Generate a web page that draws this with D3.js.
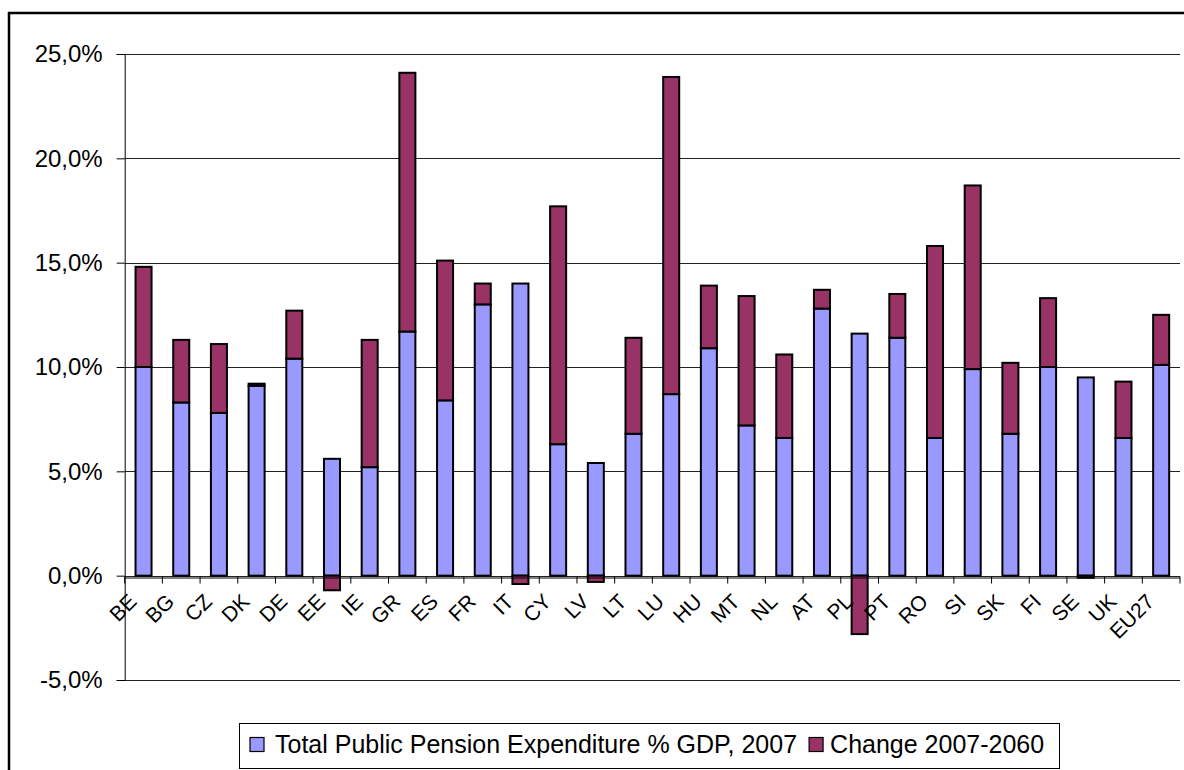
<!DOCTYPE html>
<html>
<head>
<meta charset="utf-8">
<script src="https://cdn.jsdelivr.net/npm/d3@7"></script>
<style>
  html, body { margin: 0; padding: 0; background: #fff; overflow: hidden; }
  svg { display: block; font-family: "Liberation Sans", Arial, sans-serif; }
</style>
</head>
<body>
<svg id="chart" width="1184" height="770"></svg>
<script>
const categories = ["BE","BG","CZ","DK","DE","EE","IE","GR","ES","FR","IT","CY","LV","LT","LU","HU","MT","NL","AT","PL","PT","RO","SI","SK","FI","SE","UK","EU27"];
const expenditure2007 = [10.0,8.3,7.8,9.1,10.4,5.6,5.2,11.7,8.4,13.0,14.0,6.3,5.4,6.8,8.7,10.9,7.2,6.6,12.8,11.6,11.4,6.6,9.9,6.8,10.0,9.5,6.6,10.1];
const change2007_2060 = [4.8,3.0,3.3,0.1,2.3,-0.7,6.1,12.4,6.7,1.0,-0.4,11.4,-0.3,4.6,15.2,3.0,6.2,4.0,0.9,-2.8,2.1,9.2,8.8,3.4,3.3,-0.1,2.7,2.4];
const yTicks = [-5,0,5,10,15,20,25];
const seriesNames = ["Total Public Pension Expenditure % GDP, 2007","Change 2007-2060"];
const colors = ["#9999FF","#993366"];

(function () {
const svg = d3.select("#chart");
const pLeft = 124.7, pRight = 1180, pTop = 54, pBottom = 680;

// outer border (right/bottom edges fall outside the picture)
svg.append("rect").attr("x", 9).attr("y", 13).attr("width", 1400).attr("height", 900)
  .attr("fill", "none").attr("stroke", "#000").attr("stroke-width", 2.5);

const x = d3.scaleBand().domain(categories).range([pLeft, pRight])
  .paddingInner(0.575).paddingOuter(0.2875);
const y = d3.scaleLinear().domain([-5, 25]).range([pBottom, pTop]);
const fmt = v => (v < 0 ? "-" : "") + d3.format(".1f")(Math.abs(v)).replace(".", ",") + "%";

// gridlines
svg.append("g").selectAll("line").data(yTicks).join("line")
  .attr("x1", pLeft).attr("x2", pRight)
  .attr("y1", d => Math.round(y(d)) + 0.5).attr("y2", d => Math.round(y(d)) + 0.5)
  .attr("stroke", "#222").attr("stroke-width", 1);

// y axis
const yAxis = d3.axisLeft(y).tickValues(yTicks).tickFormat(fmt).tickSize(8).tickPadding(14);
const gy = svg.append("g").attr("transform", `translate(${pLeft},0)`).call(yAxis);
gy.select(".domain").attr("stroke", "#000");
gy.selectAll(".tick line").attr("stroke", "#000");
gy.selectAll(".tick text").attr("font-size", 24).attr("fill", "#000")
  .attr("font-family", "Liberation Sans, Arial, sans-serif");

// bars
const data = categories.map((c, i) => ({ c, e: expenditure2007[i], ch: change2007_2060[i] }));
const bw = x.bandwidth();
const gb = svg.append("g");
gb.selectAll("rect.exp").data(data).join("rect").attr("class", "exp")
  .attr("x", d => x(d.c)).attr("width", bw)
  .attr("y", d => y(d.e)).attr("height", d => y(0) - y(d.e))
  .attr("fill", colors[0]).attr("stroke", "#000").attr("stroke-width", 2);
gb.selectAll("rect.chg").data(data).join("rect").attr("class", "chg")
  .attr("x", d => x(d.c)).attr("width", bw)
  .attr("y", d => d.ch >= 0 ? y(d.e + d.ch) : y(0))
  .attr("height", d => d.ch >= 0 ? y(d.e) - y(d.e + d.ch) : y(d.ch) - y(0))
  .attr("fill", colors[1]).attr("stroke", "#000").attr("stroke-width", 2);

// x axis line and ticks at category boundaries
const step = x.step();
const y0 = Math.round(y(0)) + 0.5;
svg.append("line").attr("x1", pLeft).attr("x2", pRight).attr("y1", y0 + 1.5).attr("y2", y0 + 1.5)
  .attr("stroke", "#000").attr("stroke-width", 1);
svg.append("g").selectAll("line").data(d3.range(categories.length + 1)).join("line")
  .attr("x1", i => pLeft + i * step).attr("x2", i => pLeft + i * step)
  .attr("y1", y0).attr("y2", y0 + 7).attr("stroke", "#000").attr("stroke-width", 1);

// x labels rotated
svg.append("g").selectAll("text").data(categories).join("text")
  .attr("transform", d => `translate(${x(d) + bw / 2 - 16},${y0 + 16}) rotate(-45)`)
  .attr("text-anchor", "end").attr("dy", "0.7em")
  .attr("font-size", 21).attr("fill", "#000").text(d => d);

// legend
const lg = svg.append("g");
lg.append("rect").attr("x", 239.5).attr("y", 723.5).attr("width", 820).attr("height", 45)
  .attr("fill", "#fff").attr("stroke", "#000").attr("stroke-width", 1);
const t0 = lg.append("text").attr("x", 275).attr("y", 753).attr("font-size", 25).text(seriesNames[0]);
const w0 = t0.node().getComputedTextLength();
lg.append("rect").attr("x", 250).attr("y", 737.5).attr("width", 14).attr("height", 14)
  .attr("fill", colors[0]).attr("stroke", "#000").attr("stroke-width", 1.2);
const x2 = 275 + w0 + 12;
lg.append("rect").attr("x", x2).attr("y", 737.5).attr("width", 14).attr("height", 14)
  .attr("fill", colors[1]).attr("stroke", "#000").attr("stroke-width", 1.2);
lg.append("text").attr("x", x2 + 21).attr("y", 753).attr("font-size", 25).text(seriesNames[1]);
})();
</script>
</body>
</html>
